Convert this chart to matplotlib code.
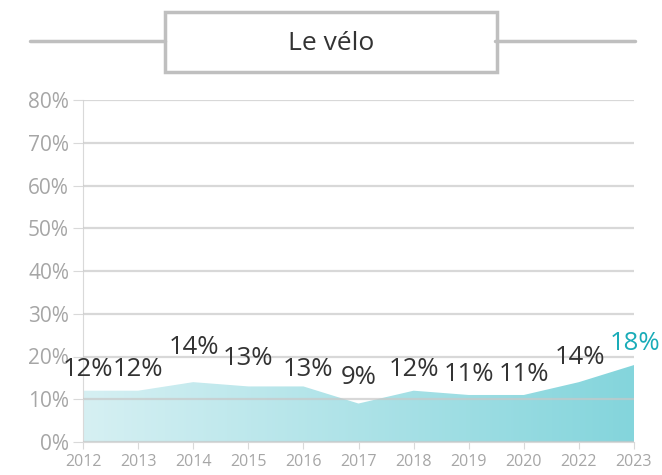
import numpy as np
import matplotlib
matplotlib.use('Agg')
import matplotlib.pyplot as plt
from matplotlib.colors import LinearSegmentedColormap
from matplotlib.patches import Rectangle

plt.rcParams['font.family'] = ['Open Sans', 'DejaVu Sans']

# données
annees = ['2012', '2013', '2014', '2015', '2016', '2017', '2018', '2019', '2020', '2022', '2023']
valeurs = [12, 12, 14, 13, 13, 9, 12, 11, 11, 14, 18]
titre = 'Le vélo'

# décalage des étiquettes (pixels), comme placées à la main dans l'original
dx_etiq = [5, 0, 1, 0, 5, 0, 0, 0, 0, 1, 1]
dy_etiq = [21, 21, 35, 28, 17, 26, 21, 20, 20, 25, 22]

x = np.arange(len(annees))

fig = plt.figure(figsize=(6.62, 4.75), dpi=100)
ax = fig.add_axes([83 / 662, 1 - 442 / 475, (634 - 83) / 662, (442 - 100) / 475])

# remplissage en dégradé horizontal
cmap = LinearSegmentedColormap.from_list('velo', ['#d6f0f3', '#84d5dc'])
poly = ax.fill_between(x, valeurs, 0, color='none', lw=0)
grad = ax.imshow(np.linspace(0, 1, 256).reshape(1, -1), cmap=cmap, aspect='auto',
                 extent=[x[0], x[-1], 0, max(valeurs)], origin='lower', zorder=1)
grad.set_clip_path(poly.get_paths()[0], transform=ax.transData)

ax.set_xlim(x[0], x[-1])
ax.set_ylim(0, 80)
ax.set_yticks(range(0, 81, 10))
ax.set_yticklabels([f'{v}%' for v in range(0, 81, 10)])
ax.set_xticks(x)
ax.set_xticklabels(annees)

ax.grid(axis='y', color='#c8c8c8', lw=1.6, alpha=0.7, zorder=3)
ax.set_axisbelow(False)
for s in ['top', 'right']:
    ax.spines[s].set_visible(False)
ax.spines['left'].set_color('#d9d9d9')
ax.spines['bottom'].set_color('#d9d9d9')
ax.tick_params(axis='y', colors='#a6a6a6', labelsize=15, length=7, color='#d9d9d9', pad=3)
ax.tick_params(axis='x', colors='#a6a6a6', labelsize=11.5, length=5, color='#d9d9d9', pad=4)

# étiquettes
for i, v in enumerate(valeurs):
    c = '#1aacb8' if i == len(valeurs) - 1 else '#333333'
    ax.annotate(f'{v}%', (x[i], v), xytext=(dx_etiq[i], dy_etiq[i]), textcoords='offset pixels',
                ha='center', va='center', fontsize=18.5, color=c, zorder=5,
                annotation_clip=False)

# titre encadré
fig.add_artist(plt.Line2D([30 / 662, 165 / 662], [1 - 41 / 475] * 2, color='#bfbfbf', lw=2.5,
                          solid_capstyle='round'))
fig.add_artist(plt.Line2D([495 / 662, 635 / 662], [1 - 41 / 475] * 2, color='#bfbfbf', lw=2.5,
                          solid_capstyle='round'))
fig.add_artist(Rectangle((165 / 662, 1 - 72 / 475), 332 / 662, 60 / 475, fill=True,
                         facecolor='white', edgecolor='#bfbfbf', lw=2.5))
fig.text(331 / 662, 1 - 43 / 475, titre, ha='center', va='center', fontsize=19, color='#333333')

fig.savefig('out.png', dpi=100)
